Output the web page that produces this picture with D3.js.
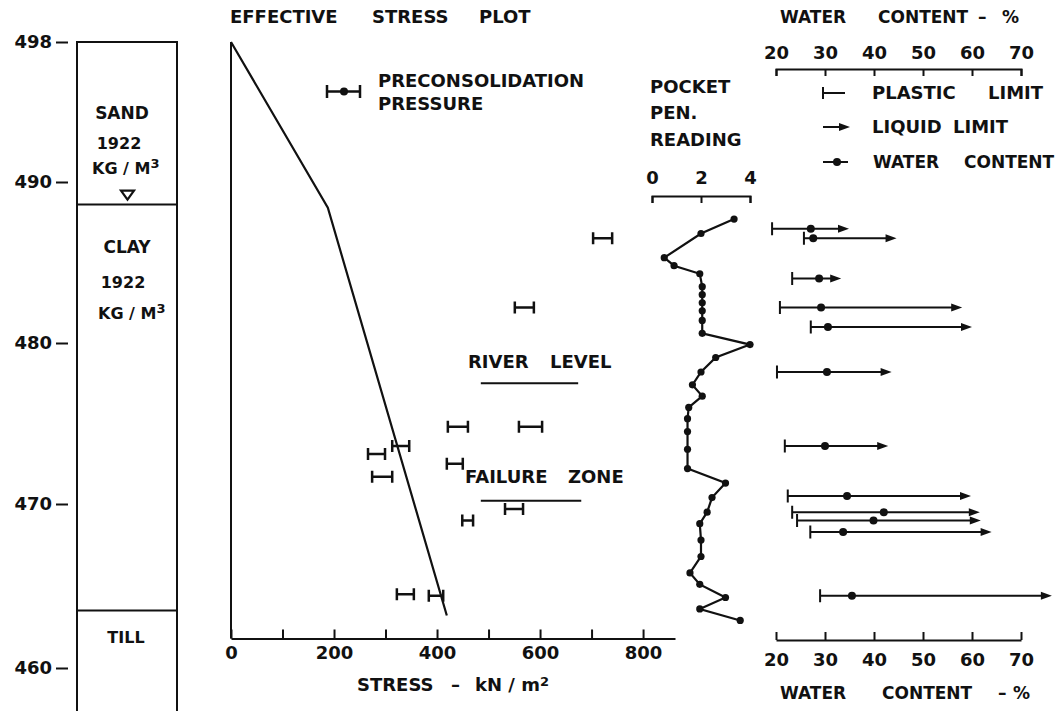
<!DOCTYPE html>
<html>
<head>
<meta charset="utf-8">
<script src="https://cdn.jsdelivr.net/npm/d3@7"></script>
<style>
  body { margin: 0; background: #fff; }
  svg text { font-family: "DejaVu Sans", sans-serif; font-weight: bold; fill: #111; }
</style>
</head>
<body>
<svg id="chart" width="1064" height="711"></svg>
<script>
// elevation (m) ticks
var elevTicks = [498, 490, 480, 470, 460];

// soil column
var layerNames = ["SAND", "CLAY", "TILL"];
var layerTops = [498, 488.6, 463.5];
var waterTable = 488.9;

// effective stress line (kN/m2 vs elevation)
var stressLine = [0, 188, 419];
var stressLineElev = [498, 488.4, 463.2];
var stressTicks = [0, 100, 200, 300, 400, 500, 600, 700, 800];
var stressAxisElev = 461.8;

// preconsolidation pressure ranges
var pcElev = [486.5, 482.2, 474.8, 474.8, 473.6, 473.1, 472.5, 471.7, 469.7, 469.0, 464.5, 464.4];
var pcLow  = [703, 551, 421, 559, 313, 266, 419, 274, 532, 449, 322, 384];
var pcHigh = [740, 588, 460, 604, 346, 299, 450, 313, 567, 470, 355, 412];

// river level / failure zone marks
var riverLevel = 477.5, failureZone = 470.2;
var markFrom = [485, 485], markTo = [674, 680];

// pocket pen reading
var penTicks = [0, 2, 4];
var penElev = [487.7, 486.8, 485.3, 484.8, 484.3, 483.5, 483.0, 482.5, 482.0, 481.4, 480.6, 479.9,
               479.1, 478.2, 477.4, 476.7, 476.0, 475.3, 474.5, 473.4, 472.2, 471.3, 470.4, 469.5,
               468.8, 467.8, 466.8, 465.8, 465.1, 464.3, 463.6, 462.9];
var penValue = [3.35, 2.0, 0.5, 0.9, 1.95, 2.05, 2.05, 2.05, 2.05, 2.05, 2.05, 4.0,
                2.6, 2.0, 1.65, 2.05, 1.5, 1.45, 1.45, 1.45, 1.45, 3.0, 2.45, 2.25,
                1.95, 2.0, 2.0, 1.55, 1.95, 3.0, 1.95, 3.6];

// water content (%)
var wcTicks = [20, 30, 40, 50, 60, 70];
var wcElev  = [487.1, 486.5, 484.0, 482.2, 481.0, 478.2, 473.6, 470.5, 469.5, 469.0, 468.3, 464.4];
var plastic = [19.2, 25.7, 23.3, 20.8, 27.1, 20.2, 21.8, 22.4, 23.3, 24.3, 27.0, 29.0];
var water   = [27.1, 27.6, 28.8, 29.2, 30.6, 30.4, 30.0, 34.5, 42.0, 39.9, 33.7, 35.5];
var liquid  = [34.9, 44.6, 33.3, 58.0, 60.0, 43.6, 42.9, 59.8, 61.6, 61.8, 64.0, 76.3];

var svg = d3.select("#chart");
var ink = "#111";
var fs = 18;

// scales
var y = d3.scaleLinear().domain(elevTicks).range([42, 182, 343, 504, 668]);
var xS = d3.scaleLinear().domain([0, 862]).range([231, 675]);
var xP = d3.scaleLinear().domain([0, 4]).range([652, 750]);
var xW = d3.scaleLinear().domain([20, 70]).range([776, 1021]);

function words(list, yc, size) {
  list.forEach(function (w) {
    svg.append("text").attr("x", w[0]).attr("y", yc).attr("dy", "0.36em")
      .attr("font-size", size || fs).attr("text-anchor", w[2] || "start").text(w[1]);
  });
}
function supText(x, yc, main, sup, size) {
  var t = svg.append("text").attr("x", x).attr("y", yc).attr("dy", "0.36em").attr("font-size", size || fs);
  t.append("tspan").text(main);
  t.append("tspan").attr("dy", "-0.45em").attr("font-size", 13).text(sup);
}
function styleAxis(g) {
  g.attr("font-size", fs);
  g.selectAll("path, line").attr("stroke", ink).attr("stroke-width", 2);
}

// ---- soil column ----
var col = svg.append("g").attr("stroke", ink).attr("stroke-width", 2).attr("fill", "none");
col.append("path").attr("d", "M77,720V" + y(498) + "H177V720");
col.selectAll(".bnd").data(layerTops.slice(1)).enter().append("line")
  .attr("x1", 77).attr("x2", 177).attr("y1", function (d) { return y(d); }).attr("y2", function (d) { return y(d); });
var wy = y(waterTable);
col.append("path").attr("d", "M121," + (wy - 9) + "H134L127.5," + wy + "Z").attr("stroke-width", 2.2);

svg.append("g").attr("transform", "translate(68,0)")
  .call(d3.axisLeft(y).tickValues(elevTicks).tickSize(12).tickPadding(4))
  .call(function (g) { g.select(".domain").remove(); })
  .call(styleAxis);

words([[122, layerNames[0], "middle"]], 113, 17);
words([[119, "1922", "middle"]], 143, 16);
supText(92, 168, "KG / M", "3", 16);
words([[127, layerNames[1], "middle"]], 247, 17);
words([[123, "1922", "middle"]], 282, 16);
supText(98, 313, "KG / M", "3", 16);
words([[126, layerNames[2], "middle"]], 637, 16);

// ---- effective stress plot ----
words([[230, "EFFECTIVE"], [372, "STRESS"], [479, "PLOT"]], 17);
var yBase = y(stressAxisElev);
svg.append("line").attr("x1", xS(0)).attr("x2", xS(0)).attr("y1", y(498)).attr("y2", yBase)
  .attr("stroke", ink).attr("stroke-width", 2);
svg.append("g").attr("transform", "translate(0," + yBase + ")")
  .call(d3.axisBottom(xS).tickValues(stressTicks).tickSizeInner(-9).tickSizeOuter(0).tickPadding(8)
    .tickFormat(function (d) { return d % 200 === 0 ? d : ""; }))
  .call(styleAxis);

svg.append("path")
  .datum(d3.range(stressLine.length))
  .attr("fill", "none").attr("stroke", ink).attr("stroke-width", 2.2)
  .attr("d", d3.line().x(function (i) { return xS(stressLine[i]); }).y(function (i) { return y(stressLineElev[i]); }));

var pc = svg.append("g").attr("stroke", ink).attr("stroke-width", 2.5).attr("fill", "none");
pcElev.forEach(function (e, i) {
  var yy = y(e), a = xS(pcLow[i]), b = xS(pcHigh[i]);
  pc.append("path").attr("d", "M" + a + "," + (yy - 6) + "V" + (yy + 6) + "M" + a + "," + yy + "H" + b +
    "M" + b + "," + (yy - 6) + "V" + (yy + 6));
});

// preconsolidation legend
var lg = svg.append("g").attr("stroke", ink).attr("stroke-width", 2.5).attr("fill", "none");
lg.append("path").attr("d", "M327,85V98M327,91.5H360M360,85V98");
lg.append("circle").attr("cx", 344).attr("cy", 91.5).attr("r", 4).attr("fill", ink).attr("stroke", "none");
words([[378, "PRECONSOLIDATION"]], 81);
words([[378, "PRESSURE"]], 104);

// river level / failure zone
[riverLevel, failureZone].forEach(function (e, i) {
  svg.append("line").attr("x1", xS(markFrom[i])).attr("x2", xS(markTo[i]))
    .attr("y1", y(e)).attr("y2", y(e)).attr("stroke", ink).attr("stroke-width", 2);
});
words([[468, "RIVER"], [550, "LEVEL"]], 362);
words([[465, "FAILURE"], [568, "ZONE"]], 477);

words([[357, "STRESS"], [451, "\u2013"]], 685);
supText(475, 685, "kN / m", "2", fs);

// ---- pocket pen ----
words([[650, "POCKET"]], 87);
words([[650, "PEN."]], 113);
words([[650, "READING"]], 140);
svg.append("g").attr("transform", "translate(0,196)")
  .call(d3.axisTop(xP).tickValues(penTicks).tickSize(-7).tickPadding(12).tickFormat(d3.format("d")))
  .call(styleAxis);
var idx = d3.range(penValue.length);
svg.append("path").datum(idx)
  .attr("fill", "none").attr("stroke", ink).attr("stroke-width", 2.2)
  .attr("d", d3.line().x(function (i) { return xP(penValue[i]); }).y(function (i) { return y(penElev[i]); }));
svg.selectAll(".pen").data(idx).enter().append("circle")
  .attr("cx", function (i) { return xP(penValue[i]); })
  .attr("cy", function (i) { return y(penElev[i]); })
  .attr("r", 3.6).attr("fill", ink);

// ---- water content ----
words([[780, "WATER"], [878, "CONTENT"], [978, "\u2013"], [1002, "%"]], 17, 17);
svg.append("g").attr("transform", "translate(0,69)")
  .call(d3.axisTop(xW).tickValues(wcTicks).tickSize(-7).tickPadding(10))
  .call(styleAxis);
svg.append("g").attr("transform", "translate(0,640)")
  .call(d3.axisBottom(xW).tickValues(wcTicks).tickSizeInner(-8).tickSizeOuter(0).tickPadding(13))
  .call(styleAxis);
words([[780, "WATER"], [882, "CONTENT"], [998, "\u2013"], [1013, "%"]], 693, 17);

function arrowHead(g, x, yy) {
  g.append("path").attr("d", "M" + x + "," + yy + "L" + (x - 11) + "," + (yy - 4) + "L" + (x - 11) + "," + (yy + 4) + "Z")
    .attr("fill", ink).attr("stroke", "none");
}
var wc = svg.append("g").attr("stroke", ink).attr("stroke-width", 2).attr("fill", "none");
wcElev.forEach(function (e, i) {
  var yy = y(e), a = xW(plastic[i]), b = xW(liquid[i]);
  wc.append("path").attr("d", "M" + a + "," + (yy - 6.5) + "V" + (yy + 6.5) + "M" + a + "," + yy + "H" + (b - 8));
  arrowHead(wc, b, yy);
  wc.append("circle").attr("cx", xW(water[i])).attr("cy", yy).attr("r", 4).attr("fill", ink).attr("stroke", "none");
});

// water content legend
var wl = svg.append("g").attr("stroke", ink).attr("stroke-width", 2).attr("fill", "none");
wl.append("path").attr("d", "M823,87V99M823,93H845");
wl.append("path").attr("d", "M823,127H842");
arrowHead(wl, 850, 127);
wl.append("path").attr("d", "M823,162H848");
wl.append("circle").attr("cx", 837).attr("cy", 162).attr("r", 4).attr("fill", ink).attr("stroke", "none");
words([[872, "PLASTIC"], [988, "LIMIT"]], 93);
words([[872, "LIQUID"], [953, "LIMIT"]], 127);
words([[873, "WATER"], [964, "CONTENT"]], 162, 17);
</script>
</body>
</html>
